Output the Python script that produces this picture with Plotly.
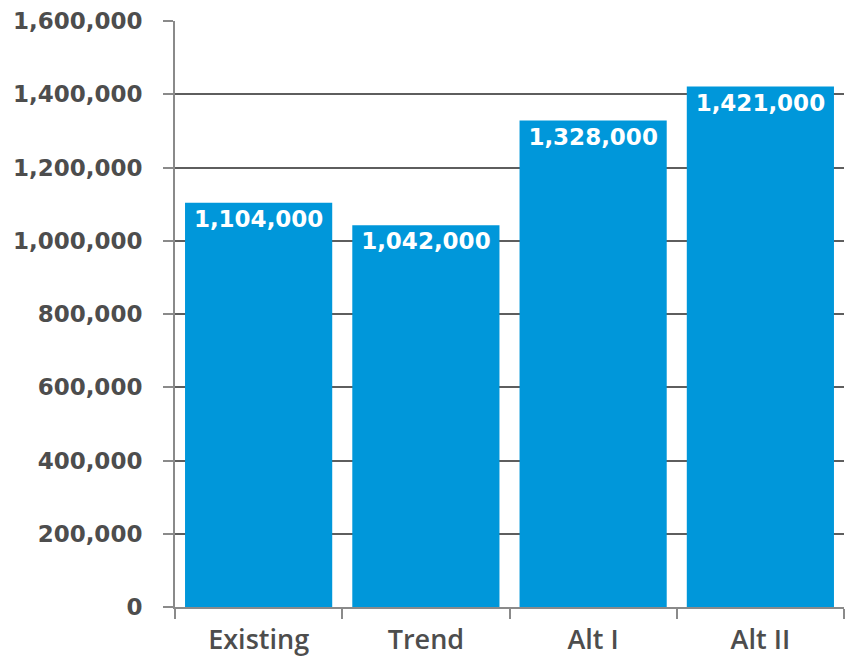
import plotly.graph_objects as go

categories = ["Existing", "Trend", "Alt I", "Alt II"]
values = [1104000, 1042000, 1328000, 1421000]
labels = [f"{v:,}" for v in values]
y_tickvals = [0, 200000, 400000, 600000, 800000, 1000000, 1200000, 1400000, 1600000]
y_ticktext = [f"{v:,}" for v in y_tickvals]

fig = go.Figure(go.Bar(
    x=categories, y=values,
    marker=dict(color="#0097DA", line=dict(width=0)),
    text=labels, textposition="inside", insidetextanchor="end",
    textangle=0, constraintext="none",
    textfont=dict(family="DejaVu Sans", size=23, color="white", weight="bold"),
))

fig.update_layout(
    width=847, height=663,
    margin=dict(l=175, r=3, t=21, b=56),
    plot_bgcolor="white", paper_bgcolor="white",
    bargap=0.12, showlegend=False,
)
fig.update_xaxes(
    showline=True, linecolor="#8a8a8a", linewidth=2,
    ticks="outside", tickson="boundaries", ticklen=10, tickcolor="#8a8a8a", tickwidth=2,
    showgrid=False, automargin=False,
    tickfont=dict(family="Open Sans", size=27, color="#4d4d4d", weight=600),
    ticklabelstandoff=8,
)
fig.update_yaxes(
    range=[0, 1600000], tickvals=y_tickvals, ticktext=y_ticktext,
    showline=True, linecolor="#8a8a8a", linewidth=2,
    ticks="outside", ticklen=10, tickcolor="#8a8a8a", tickwidth=2,
    showgrid=True, gridcolor="#5e5e5e", gridwidth=1.5,
    zeroline=False, automargin=False,
    tickfont=dict(family="DejaVu Sans", size=23, color="#4d4d4d", weight="bold"),
    ticklabelstandoff=16,
)

fig.write_html("out.html")
